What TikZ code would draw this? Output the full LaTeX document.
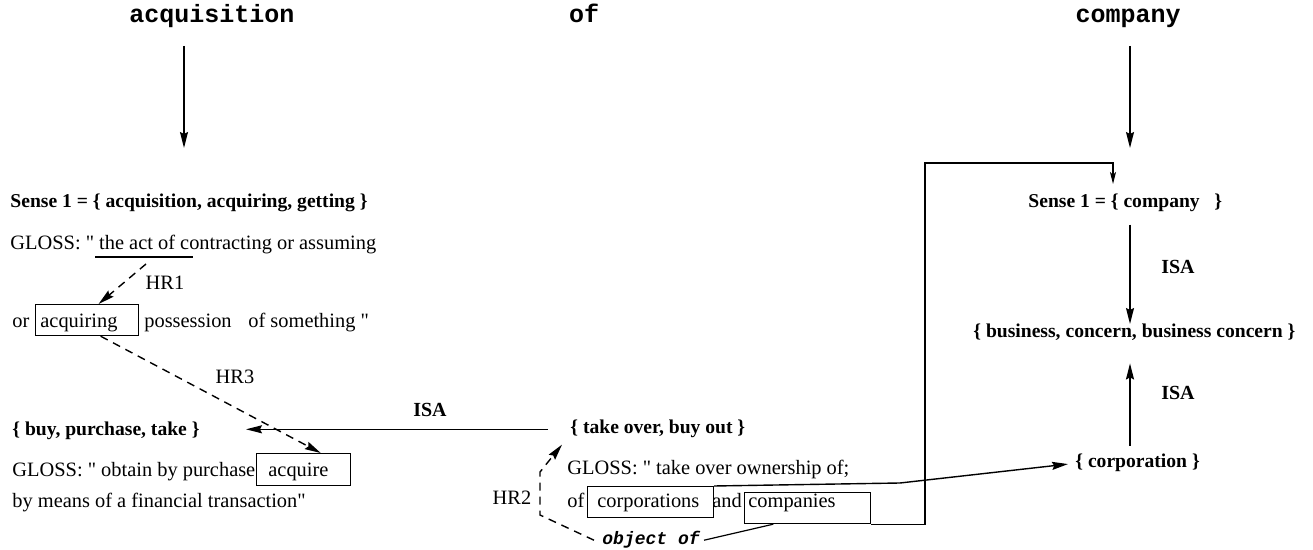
\documentclass[tikz,border=0pt]{standalone}
\usepackage{fontspec}
\setmainfont{Liberation Serif}
\newfontfamily\monof{Liberation Mono}
\usetikzlibrary{arrows.meta,calc}
\begin{document}
\begin{tikzpicture}[x=0.5pt,y=-0.5pt,
  txt/.style={anchor=base west,inner sep=0pt,font=\fontsize{10.2}{12}\selectfont},
  btxt/.style={anchor=base west,inner sep=0pt,font=\fontsize{9.8}{12}\selectfont\bfseries},
  head/.style={anchor=base,inner sep=0pt,font=\fontsize{12.5}{14}\selectfont\monof\bfseries},
  otxt/.style={anchor=base west,inner sep=0pt,font=\fontsize{9}{11}\selectfont\monof\bfseries\itshape},
  lab/.style={anchor=center,inner sep=0pt,font=\fontsize{10.2}{12}\selectfont},
  blab/.style={anchor=center,inner sep=0pt,font=\fontsize{10}{12}\selectfont\bfseries},
  wbox/.style={draw,line width=0.6pt,inner sep=0pt,anchor=north west},
  thinline/.style={line width=0.6pt},
  arr/.style={line width=0.7pt,-{Stealth[length=8pt,width=4pt,inset=1pt]}},
  arrsmall/.style={line width=0.6pt,-{Stealth[length=6pt,width=3pt,inset=1.5pt]}},
  darr/.style={arr,dash pattern=on 4pt off 3pt},
]
\useasboundingbox (0,0) rectangle (1313,550);

% headers
\node[head] (hacq) at (212,23) {acquisition};
\node[head] (hof) at (584,23) {of};
\node[head] (hcomp) at (1128,23) {company};
\coordinate (a1s) at (184,46); \coordinate (a1e) at (184,148);
\coordinate (a2s) at (1130,46); \coordinate (a2e) at (1130,148);
\draw[arr] (a1s) -- (a1e);
\draw[arr] (a2s) -- (a2e);

% left column
\node[btxt] (s1a) at (10,208) {Sense 1 = \{ acquisition, acquiring, getting \}};
\node[txt] (g1) at (10,250) {GLOSS: \textquotedbl{} the act of contracting or assuming};
\coordinate (ul1) at (95,257); \coordinate (ul2) at (193,257);
\draw[thinline] (ul1) -- (ul2);
\coordinate (hr1s) at (146,264);
\node[wbox, minimum width=51.5pt, minimum height=15.5pt] (acqbox) at (35,304) {};
\draw[darr] (hr1s) -- ($(acqbox.north west)!0.61!(acqbox.north east)$);
\node[lab] (hr1) at (165,283) {HR1};
\node[txt] (or) at (12,328) {or};
\node[txt] (acqw) at (40,328) {acquiring};
\node[txt] (poss) at (144,328) {possession};
\node[txt] (osth) at (248,328) {of something \textquotedbl};

\node[btxt] (buy) at (12,436) {\{ buy, purchase, take \}};
\node[txt] (g2) at (12,477) {GLOSS: \textquotedbl{} obtain by purchase;};
\node[wbox, fill=white, minimum width=47pt, minimum height=16pt] (acqrbox) at (256,453) {};
\node[txt] (acqr) at (268,477) {acquire};
\node[txt] (g2b) at (12,508) {by means of a financial transaction\textquotedbl};
\draw[darr] ($(acqbox.south west)!0.63!(acqbox.south east)$) -- ($(acqrbox.north west)!0.68!(acqrbox.north east)$);
\node[lab] (hr3) at (235,377) {HR3};

% middle
\node[btxt] (tko) at (570,434) {\{ take over, buy out \}};
\draw[arr, shorten <=11pt, shorten >=23pt] (tko.west) -- (tko.west -| buy.east);
\node[blab] (isa1) at (430,410) {ISA};
\node[txt] (g3) at (567,475) {GLOSS: \textquotedbl{} take over ownership of;};
\node[txt] (of2) at (567,508) {of};
\node[wbox, minimum width=63pt, minimum height=15.5pt] (corpbox) at (587,486) {};
\node[txt] (corpw) at (597,508) {corporations};
\node[txt] (and) at (712,508) {and};
\node[wbox, minimum width=63pt, minimum height=15.5pt] (compbox) at (744,492) {};
\node[txt] (compw) at (748,508) {companies};
\node[otxt] (objof) at (602,545) {object of};
\coordinate (h2a) at (540,515); \coordinate (h2b) at (540,472);
\draw[darr] ([xshift=-4pt]objof.west) -- (h2a) -- (h2b) -- ([shift={(-8,6)}]tko.south west);
\node[lab] (hr2) at (512,498) {HR2};
\draw[thinline] ([xshift=2pt]objof.east) -- ($(compbox.south west)!0.23!(compbox.south east)$);

% right column
\node[btxt] (s1c) at (1028,208) {Sense 1 = \{ company~~ \}};
\node[btxt] (bus) at (973,338) {\{ business, concern, business concern \}};
\node[btxt] (corp) at (1075,468) {\{ corporation \}};
\coordinate (vx) at (1130,0);
\draw[arr, shorten <=6pt] (s1c.south -| vx) -- (bus.north -| vx);
\node[blab] (isa2) at (1178,267) {ISA};
\draw[arr, shorten <=4pt, shorten >=11pt] (corp.north -| vx) -- (bus.south -| vx);
\node[blab] (isa3) at (1178,393) {ISA};

% long connectors
\coordinate (p1) at (925,163); \coordinate (p2) at (1113,163);
\draw[arrsmall, shorten >=5pt] (compbox.south east) -| (p1) -- (p2) -- (p2 |- s1c.north);
\coordinate (p3) at (900,483);
\draw[arr, shorten >=3.5pt] (corpbox.north east) -- (p3) -- (corp.west);
\end{tikzpicture}
\end{document}
